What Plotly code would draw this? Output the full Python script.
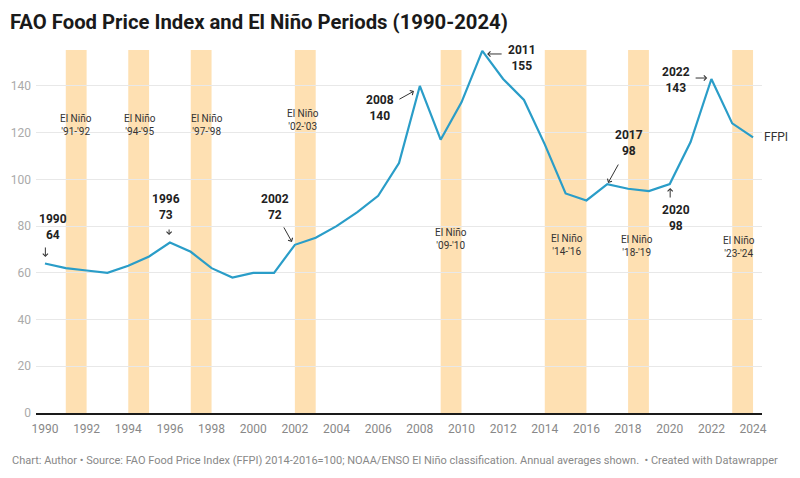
import plotly.graph_objects as go

# ---- data ----
years = list(range(1990, 2025))
ffpi = [64, 62, 61, 60, 63, 67, 73, 69, 62, 58,
        60, 60, 72, 75, 80, 86, 93, 107, 140, 117,
        133, 155, 143, 134, 115, 94, 91, 98, 96, 95,
        98, 116, 143, 124, 118]

elnino_start = [1991, 1994, 1997, 2002, 2009, 2014, 2018, 2023]
elnino_end = [1992, 1995, 1998, 2003, 2010, 2016, 2019, 2024]
elnino_labels = ["El Niño<br>'91-'92", "El Niño<br>'94-'95", "El Niño<br>'97-'98",
                 "El Niño<br>'02-'03", "El Niño<br>'09-'10", "El Niño<br>'14-'16",
                 "El Niño<br>'18-'19", "El Niño<br>'23-'24"]

callout_text = ["1990<br>64", "1996<br>73", "2002<br>72", "2008<br>140",
                "2011<br>155", "2017<br>98", "2020<br>98", "2022<br>143"]

x_ticks = list(range(1990, 2025, 2))
y_ticks = [0, 20, 40, 60, 80, 100, 120, 140]

# ---- styling / positions ----
LINE_COLOR = "#2a9dc8"
BAND_COLOR = "#fee0b2"
FONT = "Roboto"

band_label_pos = [(1991.49, 123.5), (1994.56, 123.5), (1997.8, 123.5), (2002.4, 125.3),
                  (2009.5, 74.5), (2015.07, 72.0), (2018.43, 71.5), (2023.33, 71.1)]
callout_pos = [(1990.38, 79.5), (1995.81, 88.2), (2001.05, 88.2), (2006.09, 130.6),
               (2012.91, 152.0), (2018.05, 115.6), (2020.31, 83.5), (2020.31, 142.6)]
# (tail_x, tail_y, head_x, head_y)
arrow_pos = [(1990.02, 71.5, 1990.02, 66.8), (1995.96, 79.2, 1995.96, 76.2),
             (2001.43, 80.1, 2001.86, 73.2), (2006.95, 134.0, 2007.72, 137.8),
             (2012.0, 153.7, 2011.23, 153.7), (2017.57, 107.0, 2017.04, 98.5),
             (2020.02, 91.6, 2020.02, 96.3), (2021.17, 143.4, 2021.8, 143.4)]

fig = go.Figure()

fig.add_trace(go.Scatter(
    x=years, y=ffpi, mode="lines",
    line=dict(color=LINE_COLOR, width=2.2),
    hoverinfo="x+y", showlegend=False,
))

shapes = []
for s, e in zip(elnino_start, elnino_end):
    shapes.append(dict(type="rect", xref="x", yref="paper", x0=s, x1=e, y0=0, y1=1,
                       fillcolor=BAND_COLOR, line=dict(width=0), layer="between"))

annotations = []
for (lx, ly), txt in zip(band_label_pos, elnino_labels):
    annotations.append(dict(x=lx, y=ly, xref="x", yref="y", text=txt, showarrow=False,
                            font=dict(family=FONT, size=10, color="#333333"),
                            xanchor="center", yanchor="middle"))
for (cx, cy), txt in zip(callout_pos, callout_text):
    annotations.append(dict(x=cx, y=cy, xref="x", yref="y", text="<b>" + txt + "</b>",
                            showarrow=False,
                            font=dict(family=FONT, size=12, color="#222222"),
                            xanchor="center", yanchor="middle"))
for tx, ty, hx, hy in arrow_pos:
    annotations.append(dict(x=hx, y=hy, ax=tx, ay=ty, xref="x", yref="y",
                            axref="x", ayref="y", text="", showarrow=True,
                            arrowhead=4, arrowsize=1, arrowwidth=1, arrowcolor="#333333"))

# end-of-line label (paper x so it is not hidden outside the axis range)
annotations.append(dict(x=(762 - 36) / 726, y=ffpi[-1], xref="paper", yref="y", text="FFPI",
                        showarrow=False, xanchor="left", yanchor="middle",
                        font=dict(family=FONT, size=12, color="#333333")))

# footer
annotations.append(dict(
    x=-(36 - 10) / 726, y=-(460 - 413) / 363, xref="paper", yref="paper",
    xanchor="left", yanchor="middle",
    text="Chart: Author • Source: FAO Food Price Index (FFPI) 2014-2016=100; NOAA/ENSO El Niño classification. Annual averages shown.  • Created with Datawrapper",
    showarrow=False, font=dict(family=FONT, size=11, color="#888888"),
))

fig.update_layout(
    width=800, height=478,
    margin=dict(l=36, r=38, t=50, b=65),
    paper_bgcolor="white", plot_bgcolor="white",
    font=dict(family=FONT, color="#333333"),
    title=dict(text="<b>FAO Food Price Index and El Niño Periods (1990-2024)</b>",
               x=0.0125, xanchor="left", y=0.954, yanchor="middle",
               font=dict(family=FONT, size=20.3, color="#1a1a1a")),
    shapes=shapes,
    annotations=annotations,
    xaxis=dict(range=[1989.57, 2024.43], tickvals=x_ticks, ticks="",
               showgrid=False, zeroline=False, showline=True, linecolor="#1a1a1a",
               linewidth=1.5, tickfont=dict(family=FONT, size=12, color="#888888"),
               ticklabelstandoff=4, fixedrange=True),
    yaxis=dict(range=[0, 155.4], tickvals=y_ticks, ticks="", showgrid=True,
               gridcolor="#e8e8e8", gridwidth=1, zeroline=False, showline=False,
               tickfont=dict(family=FONT, size=12, color="#aaaaaa"),
               ticklabelstandoff=4, fixedrange=True),
)

fig.write_html("out.html", include_plotlyjs=True, config={"displayModeBar": False})
